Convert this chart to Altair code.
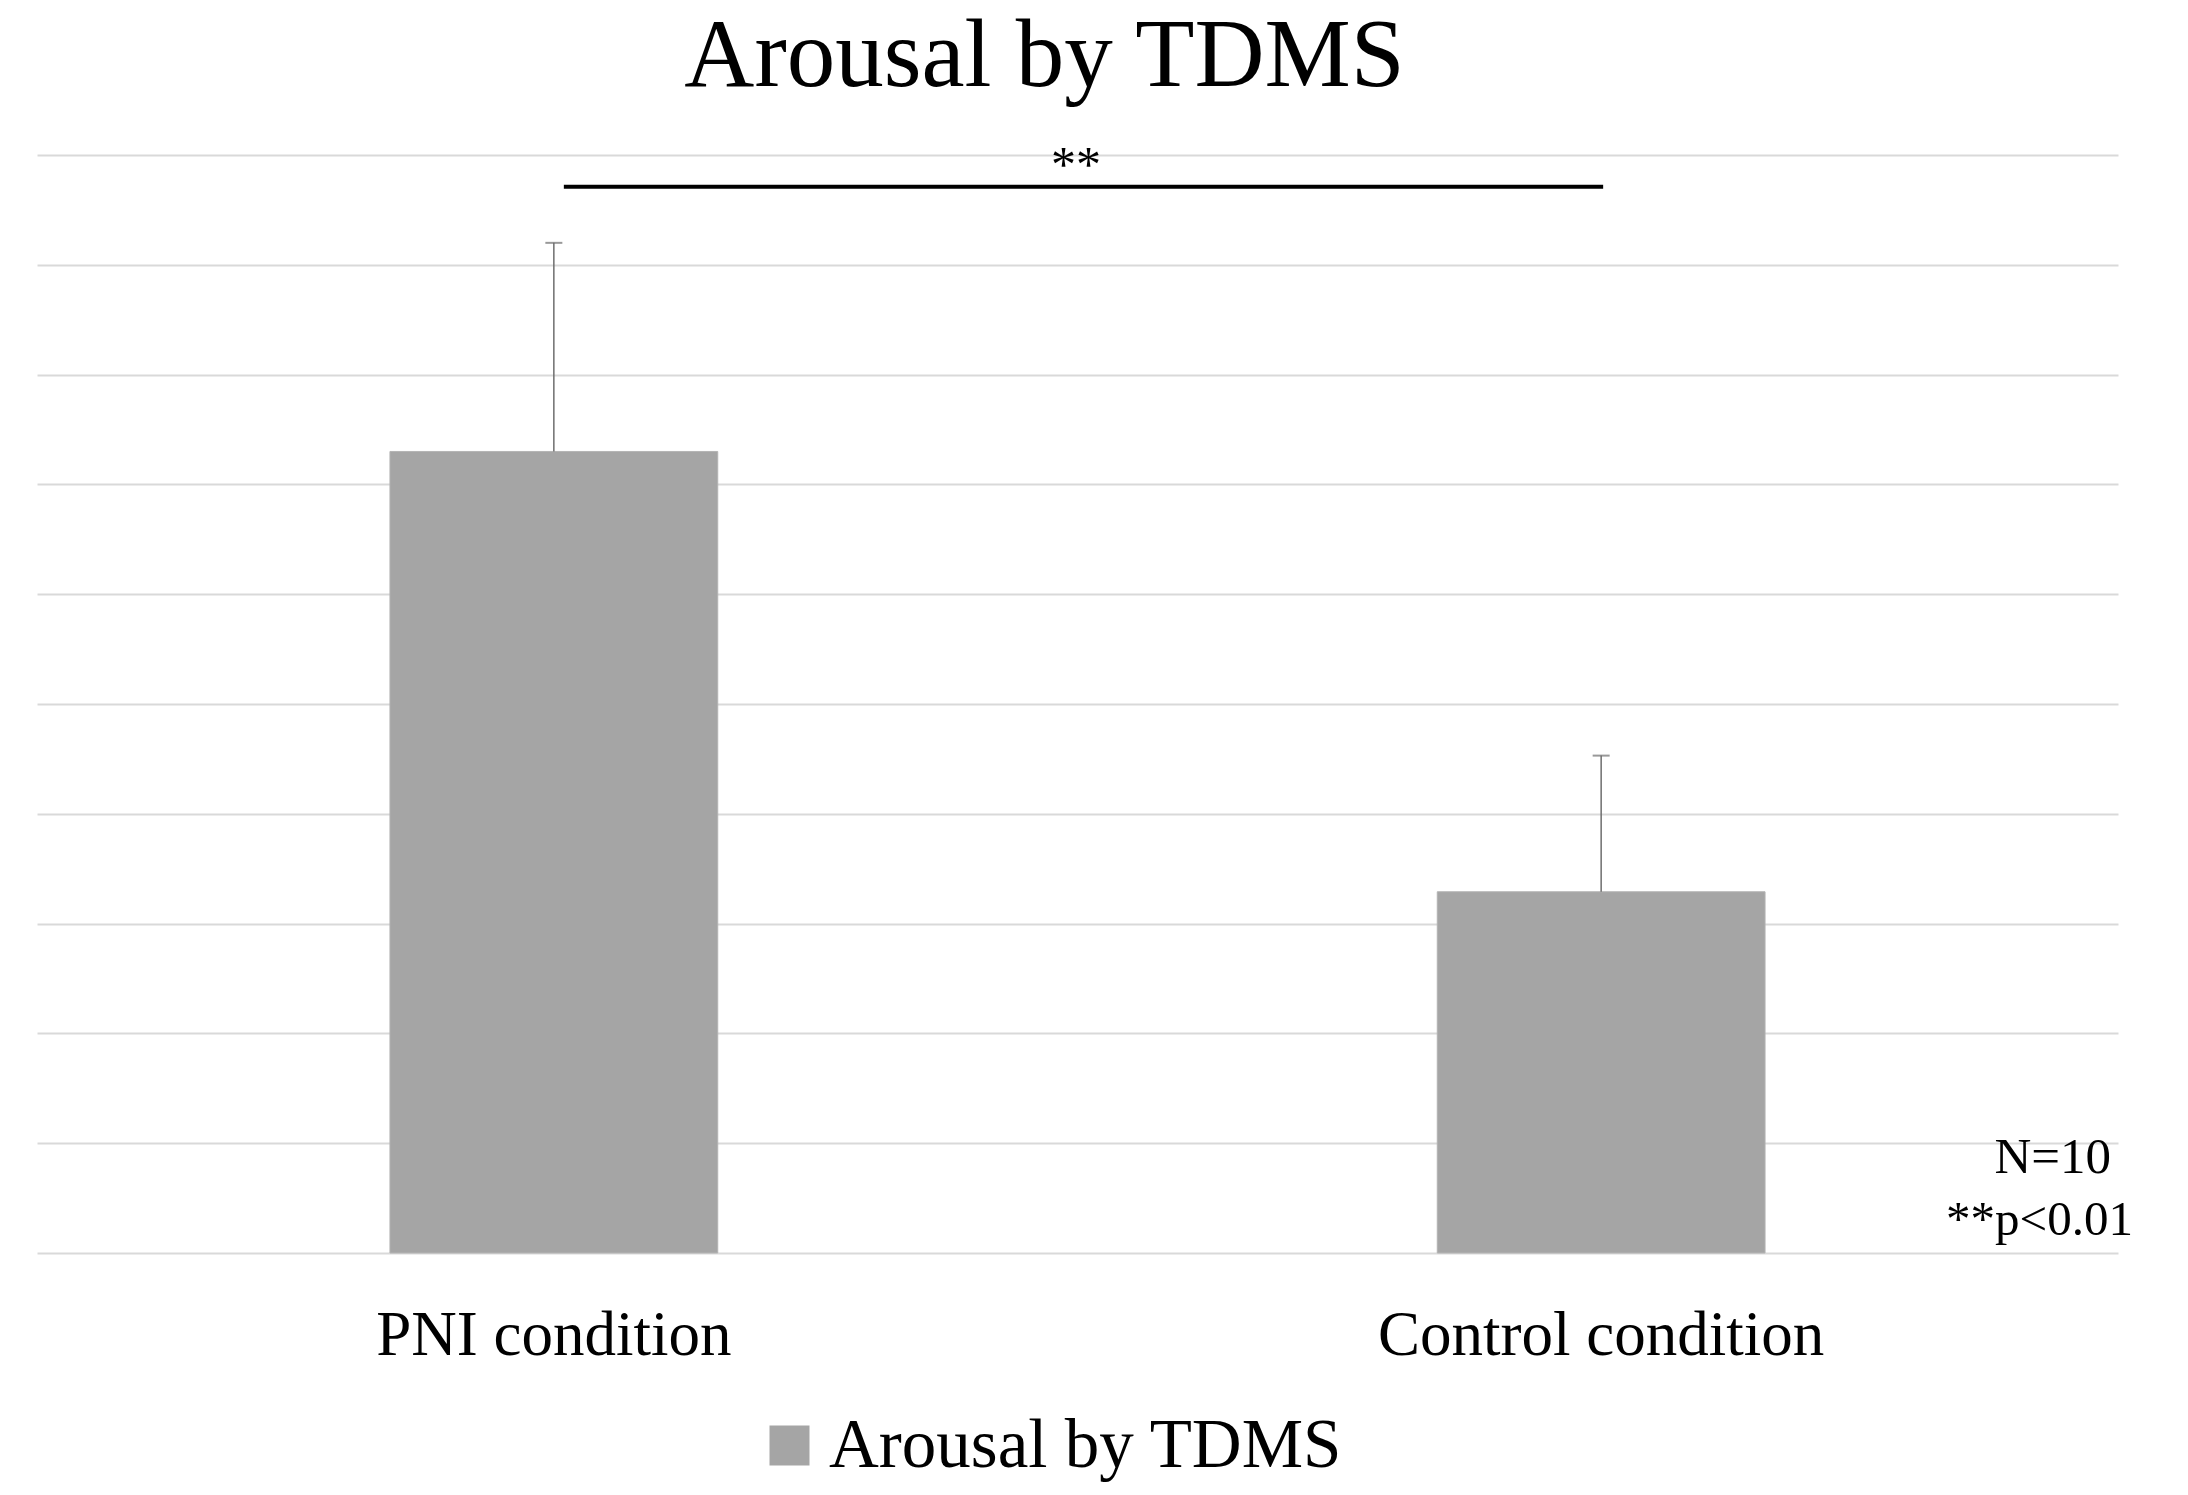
import altair as alt
import pandas as pd

categories = ["PNI condition", "Control condition"]
means = [7.30, 3.29]
errors = [1.90, 1.24]
series_name = "Arousal by TDMS"
sig_level = 9.71
sig_label = "**"
note_n = "N=10"
note_p = "**p<0.01"

df = pd.DataFrame({
    "condition": categories,
    "mean": means,
    "upper": [m + e for m, e in zip(means, errors)],
    "series": [series_name] * len(categories),
})
sig_df = pd.DataFrame({"start": [categories[0]], "end": [categories[1]], "y": [sig_level]})

FONT = "Liberation Serif"

x_scale = alt.Scale(domain=categories, paddingInner=0.687, paddingOuter=0.337)
x_enc = alt.X(
    "condition:N",
    title=None,
    scale=x_scale,
    axis=alt.Axis(
        labelAngle=0, labelFont=FONT, labelFontSize=63, labelColor="black",
        labelBaseline="alphabetic", labelPadding=101, ticks=False, tickSize=0,
        domain=False, grid=False, labelLimit=0,
    ),
)
y_scale = alt.Scale(domain=[0, 10], nice=False, zero=True)
y_axis = alt.Axis(
    values=list(range(0, 11)), labels=False, ticks=False, domain=False,
    grid=True, gridColor="#D9D9D9", gridWidth=2, title=None,
)

bars = alt.Chart(df).mark_bar(stroke="#B4B4B4", strokeWidth=1).encode(
    x=x_enc,
    y=alt.Y("mean:Q", scale=y_scale, axis=y_axis),
    color=alt.Color(
        "series:N",
        scale=alt.Scale(range=["#A5A5A5"]),
        legend=alt.Legend(
            title=None, orient="none", legendX=718, legendY=1256, padding=0,
            symbolType="square", symbolSize=1600, symbolStrokeWidth=0,
            labelFont=FONT, labelFontSize=69, labelColor="black",
            labelOffset=5, labelLimit=0,
        ),
    ),
)

err_rule = alt.Chart(df).mark_rule(color="#6E6E6E", strokeWidth=1.5).encode(
    x=alt.X("condition:N", scale=x_scale),
    y="mean:Q",
    y2="upper:Q",
)
err_cap = alt.Chart(df).mark_tick(color="#6E6E6E", thickness=2, size=17).encode(
    x=alt.X("condition:N", scale=x_scale),
    y="upper:Q",
)

sig_line = alt.Chart(sig_df).mark_rule(
    color="black", strokeWidth=4, xOffset=10, x2Offset=2
).encode(
    x=alt.X("start:N", scale=x_scale),
    x2="end:N",
    y="y:Q",
)
sig_text = alt.Chart(sig_df).mark_text(
    text=sig_label, font=FONT, fontSize=50, color="black",
    align="center", baseline="alphabetic",
).encode(
    x=alt.value(1039),
    y=alt.datum(9.76),
)

note1 = alt.Chart(sig_df).mark_text(
    text=note_n, font=FONT, fontSize=51, color="black",
    align="right", baseline="alphabetic",
).encode(x=alt.value(2074), y=alt.datum(0.727))
note2 = alt.Chart(sig_df).mark_text(
    text=note_p, font=FONT, fontSize=49, color="black",
    align="right", baseline="alphabetic",
).encode(x=alt.value(2096), y=alt.datum(0.168))

chart = alt.layer(bars, err_rule, err_cap, sig_line, sig_text, note1, note2).properties(
    width=2081,
    height=1098,
    padding={"left": 29, "top": 147, "right": 62, "bottom": 234},
    autosize=alt.AutoSizeParams(type="none"),
    title=alt.TitleParams(
        text="Arousal by TDMS", font=FONT, fontSize=97, fontWeight="normal",
        color="black", anchor="middle", dx=-33, offset=35,
    ),
).configure(background="white").configure_view(strokeWidth=0)

chart.save("out.html", embed_options={"renderer": "svg", "actions": False})
